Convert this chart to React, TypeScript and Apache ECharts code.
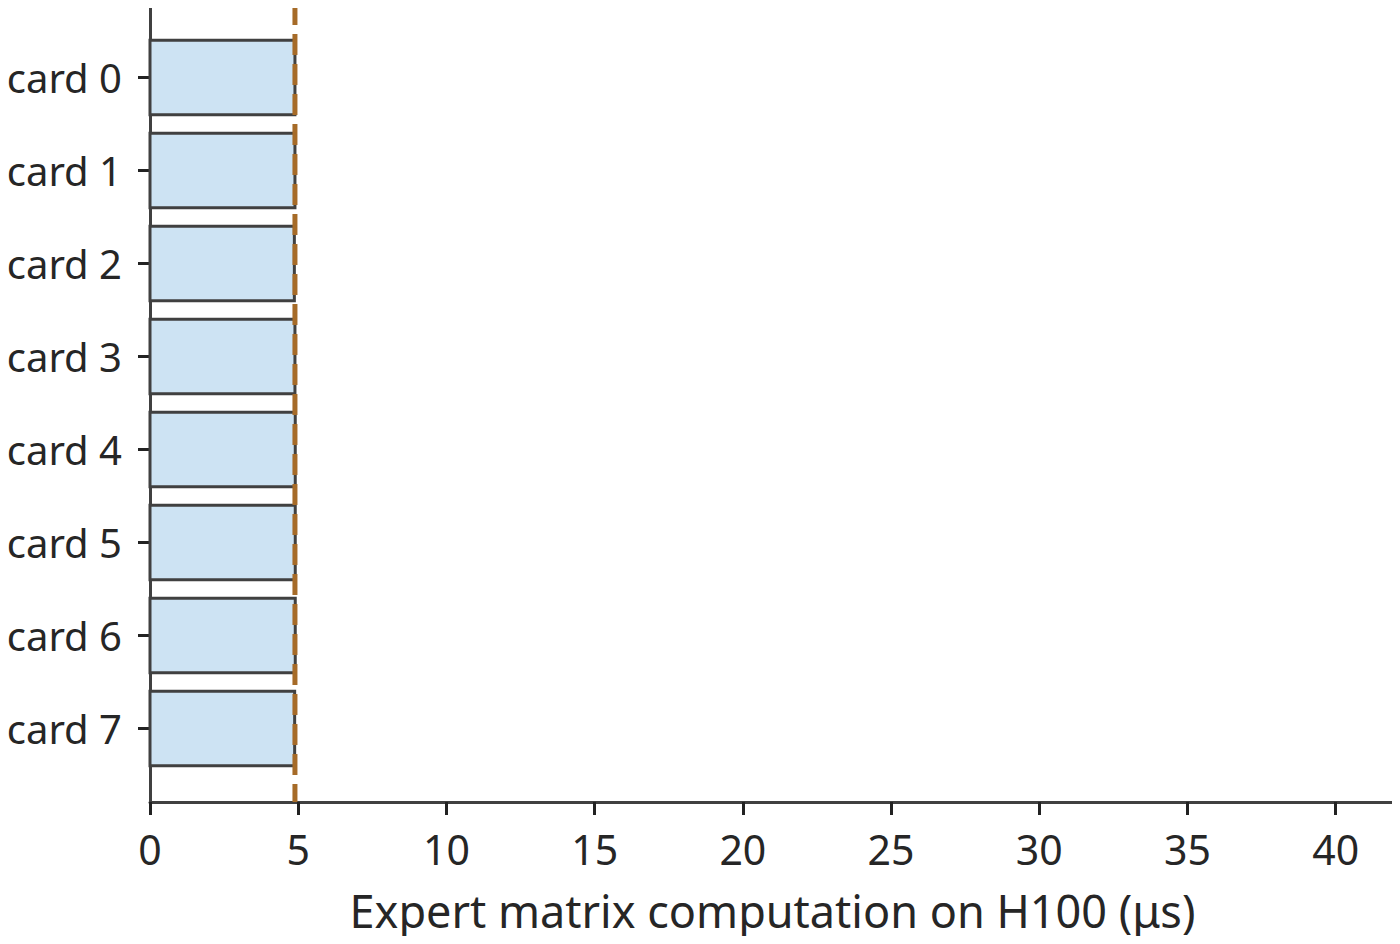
import * as echarts from 'echarts';
import { useEffect, useRef } from 'react';

const cards = ['card 0', 'card 1', 'card 2', 'card 3', 'card 4', 'card 5', 'card 6', 'card 7'];
const times = [4.89, 4.89, 4.87, 4.89, 4.9, 4.9, 4.9, 4.88];
const meanTime = 4.89;
const xTicks = [0, 5, 10, 15, 20, 25, 30, 35, 40];

const FONT = 'Noto Sans';
const DARK = '#404040';
const TEXT = '#262626';

const App = () => {
    const divRef = useRef<HTMLDivElement>(null);

    useEffect(() => {
        const chart = echarts.init(divRef.current!, null, { renderer: 'svg' });

        const barData = times.map((t, i) => [t, i]);

        chart.setOption({
            animation: false,
            textStyle: { fontFamily: FONT },
            grid: { left: 150, right: 5, top: 4, bottom: 142, containLabel: false },
            xAxis: {
                type: 'value',
                min: 0,
                max: 42,
                interval: 5,
                name: 'Expert matrix computation on H100 (μs)',
                nameLocation: 'middle',
                nameGap: 86,
                nameTextStyle: { fontSize: 45, color: TEXT, fontFamily: FONT },
                axisLine: { show: true, onZero: false, lineStyle: { color: DARK, width: 3 } },
                axisTick: { show: true, length: 13, lineStyle: { color: '#222', width: 3 }, customValues: xTicks },
                axisLabel: {
                    fontSize: 41, color: TEXT, margin: 26, fontFamily: FONT,
                    customValues: xTicks,
                    formatter: (v: number) => String(v)
                },
                splitLine: { show: false }
            },
            yAxis: {
                type: 'value',
                inverse: true,
                min: -0.79,
                max: 7.79,
                axisLine: { show: true, onZero: false, lineStyle: { color: DARK, width: 3 } },
                axisTick: { show: true, length: 12, lineStyle: { color: '#222', width: 3 }, customValues: cards.map((_, i) => i) },
                axisLabel: {
                    fontSize: 40, color: TEXT, margin: 28, fontFamily: FONT,
                    customValues: cards.map((_, i) => i),
                    formatter: (v: number) => cards[Math.round(v)] ?? ''
                },
                splitLine: { show: false }
            },
            series: [
                {
                    type: 'custom',
                    z: 2,
                    encode: { x: 0, y: 1 },
                    data: barData,
                    renderItem: (params: any, api: any) => {
                        const val = api.value(0);
                        const idx = api.value(1);
                        const p0 = api.coord([0, idx - 0.4]);
                        const p1 = api.coord([val, idx + 0.4]);
                        return {
                            type: 'rect',
                            shape: {
                                x: p0[0],
                                y: Math.min(p0[1], p1[1]),
                                width: p1[0] - p0[0],
                                height: Math.abs(p1[1] - p0[1])
                            },
                            style: { fill: '#cde3f3', stroke: DARK, lineWidth: 3 }
                        };
                    }
                },
                {
                    type: 'line',
                    z: 5,
                    symbol: 'none',
                    data: [[meanTime, -0.79], [meanTime, 7.79]],
                    lineStyle: { color: '#a66b28', width: 5, type: [21, 9] }
                }
            ]
        });

        return () => {
            chart.dispose();
        };
    }, []);

    return (
        <div style={{ width: '1400px', height: '944px', margin: '-8px' }} ref={divRef}></div>
    );
};

export default App;
